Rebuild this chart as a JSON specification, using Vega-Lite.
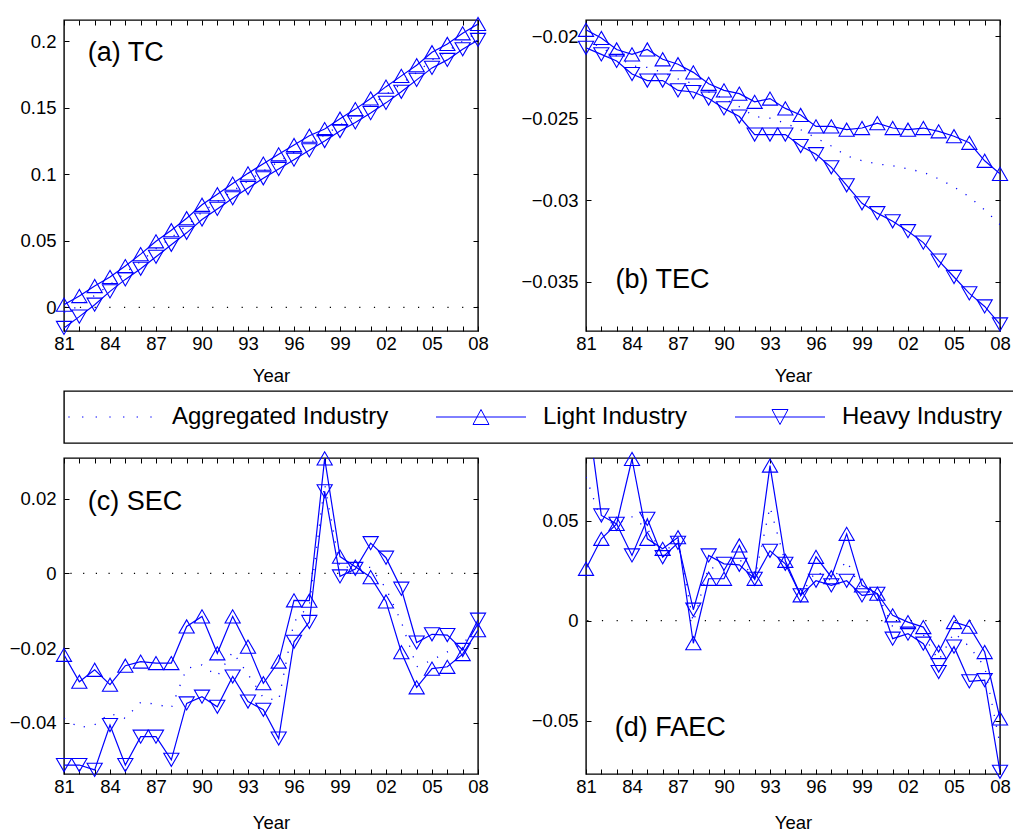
{
  "$schema": "https://vega.github.io/schema/vega-lite/v6.json",
  "padding": {"left": 5, "top": 14, "right": 0, "bottom": 0},
  "background": "white",
  "config": {
    "font": "Liberation Sans",
    "view": {"stroke": "black", "strokeWidth": 1.4},
    "axis": {"labelFont": "Liberation Sans", "labelFontSize": 18.5, "labelColor": "black", "titleFont": "Liberation Sans", "titleFontSize": 18.5, "titleFontWeight": "normal", "titleColor": "black", "tickColor": "black", "tickWidth": 1, "grid": false, "domain": false}
  },
  "datasets": {
    "a": [
      {"year":1981,"L":0.002,"H":-0.0155,"A":-0.004},{"year":1982,"L":0.0085,"H":-0.007,"A":0.001},{"year":1983,"L":0.016,"H":0.002,"A":0.009},{"year":1984,"L":0.0228,"H":0.012,"A":0.017},{"year":1985,"L":0.031,"H":0.021,"A":0.026},{"year":1986,"L":0.040,"H":0.029,"A":0.0345},{"year":1987,"L":0.0496,"H":0.038,"A":0.044},{"year":1988,"L":0.058,"H":0.047,"A":0.0525},{"year":1989,"L":0.067,"H":0.056,"A":0.0615},{"year":1990,"L":0.0771,"H":0.066,"A":0.0715},{"year":1991,"L":0.085,"H":0.074,"A":0.0795},{"year":1992,"L":0.093,"H":0.082,"A":0.0875},{"year":1993,"L":0.1007,"H":0.0897,"A":0.095},{"year":1994,"L":0.108,"H":0.097,"A":0.1025},{"year":1995,"L":0.115,"H":0.104,"A":0.1095},{"year":1996,"L":0.122,"H":0.111,"A":0.1165},{"year":1997,"L":0.129,"H":0.118,"A":0.1235},{"year":1998,"L":0.134,"H":0.125,"A":0.1295},{"year":1999,"L":0.1418,"H":0.1325,"A":0.137},{"year":2000,"L":0.149,"H":0.139,"A":0.144},{"year":2001,"L":0.157,"H":0.146,"A":0.1515},{"year":2002,"L":0.1659,"H":0.1537,"A":0.160},{"year":2003,"L":0.174,"H":0.162,"A":0.168},{"year":2004,"L":0.182,"H":0.171,"A":0.1765},{"year":2005,"L":0.1918,"H":0.180,"A":0.186},{"year":2006,"L":0.198,"H":0.186,"A":0.1925},{"year":2007,"L":0.206,"H":0.194,"A":0.200},{"year":2008,"L":0.213,"H":0.201,"A":0.207}
    ],
    "b": [
      {"year":1981,"L":-0.0196,"H":-0.0207,"A":-0.0202},{"year":1982,"L":-0.0201,"H":-0.0211,"A":-0.0207},{"year":1983,"L":-0.0208,"H":-0.0215,"A":-0.0212},{"year":1984,"L":-0.0211,"H":-0.0223,"A":-0.0218},{"year":1985,"L":-0.0208,"H":-0.0227,"A":-0.0219},{"year":1986,"L":-0.0214,"H":-0.0227,"A":-0.0222},{"year":1987,"L":-0.0217,"H":-0.0233,"A":-0.0226},{"year":1988,"L":-0.0222,"H":-0.0234,"A":-0.0229},{"year":1989,"L":-0.0229,"H":-0.0238,"A":-0.0234},{"year":1990,"L":-0.0233,"H":-0.0244,"A":-0.0238},{"year":1991,"L":-0.0235,"H":-0.0249,"A":-0.0243},{"year":1992,"L":-0.024,"H":-0.026,"A":-0.0249},{"year":1993,"L":-0.0238,"H":-0.026,"A":-0.025},{"year":1994,"L":-0.0244,"H":-0.026,"A":-0.0253},{"year":1995,"L":-0.0248,"H":-0.0267,"A":-0.0257},{"year":1996,"L":-0.0255,"H":-0.0272,"A":-0.0262},{"year":1997,"L":-0.0255,"H":-0.028,"A":-0.0267},{"year":1998,"L":-0.0257,"H":-0.0291,"A":-0.0273},{"year":1999,"L":-0.0256,"H":-0.0302,"A":-0.0276},{"year":2000,"L":-0.0253,"H":-0.0308,"A":-0.0278},{"year":2001,"L":-0.0256,"H":-0.0313,"A":-0.0279},{"year":2002,"L":-0.0257,"H":-0.0319,"A":-0.0281},{"year":2003,"L":-0.0256,"H":-0.0326,"A":-0.0283},{"year":2004,"L":-0.0258,"H":-0.0337,"A":-0.0287},{"year":2005,"L":-0.0261,"H":-0.0347,"A":-0.0292},{"year":2006,"L":-0.0265,"H":-0.0357,"A":-0.0298},{"year":2007,"L":-0.0276,"H":-0.0365,"A":-0.0306},{"year":2008,"L":-0.0284,"H":-0.0376,"A":-0.0315}
    ],
    "c": [
      {"year":1981,"L":-0.0218,"H":-0.0513,"A":-0.0388},{"year":1982,"L":-0.029,"H":-0.0513,"A":-0.0413},{"year":1983,"L":-0.0258,"H":-0.0526,"A":-0.0405},{"year":1984,"L":-0.0298,"H":-0.0406,"A":-0.0375},{"year":1985,"L":-0.0247,"H":-0.0513,"A":-0.0388},{"year":1986,"L":-0.0236,"H":-0.0437,"A":-0.0345},{"year":1987,"L":-0.024,"H":-0.0437,"A":-0.035},{"year":1988,"L":-0.024,"H":-0.0499,"A":-0.036},{"year":1989,"L":-0.0142,"H":-0.0348,"A":-0.0254},{"year":1990,"L":-0.0115,"H":-0.033,"A":-0.0245},{"year":1991,"L":-0.0214,"H":-0.0357,"A":-0.0275},{"year":1992,"L":-0.0115,"H":-0.0276,"A":-0.021},{"year":1993,"L":-0.0196,"H":-0.0343,"A":-0.027},{"year":1994,"L":-0.0294,"H":-0.0365,"A":-0.0333},{"year":1995,"L":-0.0236,"H":-0.0442,"A":-0.034},{"year":1996,"L":-0.0072,"H":-0.0183,"A":-0.013},{"year":1997,"L":-0.0073,"H":-0.013,"A":-0.0086},{"year":1998,"L":0.0308,"H":0.022,"A":0.024},{"year":1999,"L":0.0045,"H":-0.0008,"A":0.0015},{"year":2000,"L":0.0018,"H":0.0012,"A":0.0019},{"year":2001,"L":-0.001,"H":0.0081,"A":0.0016},{"year":2002,"L":-0.0075,"H":0.0042,"A":-0.004},{"year":2003,"L":-0.0211,"H":-0.0041,"A":-0.013},{"year":2004,"L":-0.0305,"H":-0.0185,"A":-0.025},{"year":2005,"L":-0.0255,"H":-0.0163,"A":-0.0232},{"year":2006,"L":-0.025,"H":-0.0165,"A":-0.021},{"year":2007,"L":-0.0216,"H":-0.0205,"A":-0.019},{"year":2008,"L":-0.0152,"H":-0.0124,"A":-0.0137}
    ],
    "d": [
      {"year":1981,"L":0.026,"H":0.11,"A":0.072},{"year":1982,"L":0.041,"H":0.0527,"A":0.05},{"year":1983,"L":0.0485,"H":0.0485,"A":0.0485},{"year":1984,"L":0.081,"H":0.0327,"A":0.052},{"year":1985,"L":0.041,"H":0.051,"A":0.046},{"year":1986,"L":0.036,"H":0.0318,"A":0.034},{"year":1987,"L":0.0418,"H":0.039,"A":0.04},{"year":1988,"L":-0.0113,"H":0.0055,"A":-0.001},{"year":1989,"L":0.021,"H":0.0327,"A":0.027},{"year":1990,"L":0.021,"H":0.0285,"A":0.025},{"year":1991,"L":0.0377,"H":0.028,"A":0.031},{"year":1992,"L":0.021,"H":0.021,"A":0.021},{"year":1993,"L":0.0777,"H":0.035,"A":0.057},{"year":1994,"L":0.03,"H":0.0285,"A":0.029},{"year":1995,"L":0.0127,"H":0.0127,"A":0.0127},{"year":1996,"L":0.032,"H":0.02,"A":0.025},{"year":1997,"L":0.0218,"H":0.0177,"A":0.02},{"year":1998,"L":0.0435,"H":0.02,"A":0.03},{"year":1999,"L":0.0177,"H":0.0127,"A":0.015},{"year":2000,"L":0.0135,"H":0.0135,"A":0.0135},{"year":2001,"L":0.0027,"H":-0.009,"A":-0.003},{"year":2002,"L":-0.0007,"H":-0.0065,"A":-0.004},{"year":2003,"L":-0.0032,"H":-0.0115,"A":-0.007},{"year":2004,"L":-0.0157,"H":-0.0257,"A":-0.02},{"year":2005,"L":-0.0007,"H":-0.013,"A":-0.006},{"year":2006,"L":-0.003,"H":-0.0304,"A":-0.013},{"year":2007,"L":-0.0157,"H":-0.0298,"A":-0.023},{"year":2008,"L":-0.049,"H":-0.0757,"A":-0.062}
    ]
  },
  "vconcat": [
    {
      "hconcat": [
        {
          "width": 414, "height": 311,
          "data": {"name": "a"},
          "title": {"text": "(a) TC", "orient": "top", "anchor": "start", "frame": "group", "offset": 0, "dx": 23.7, "dy": 64.5, "baseline": "middle", "fontSize": 27, "fontWeight": "normal", "font": "Liberation Sans", "color": "black"},
          "encoding": {"x": {"field": "year", "type": "quantitative", "scale": {"domain": [1981, 2008], "nice": false, "zero": false}, "axis": null}},
          "layer": [
            {"data": {"values": [{"z": 0}]}, "mark": {"type": "rule", "color": "black", "strokeDash": [1.2, 13.5], "strokeWidth": 1.3}, "encoding": {"x": null, "y": {"field": "z", "type": "quantitative", "scale": {"domain": [-0.0178, 0.216], "nice": false, "zero": false}, "axis": null}}},
            {"mark": {"type": "line", "color": "#0000ff", "strokeDash": [1.2, 10], "strokeWidth": 1.3, "clip": true},
             "encoding": {
               "x": {"field": "year", "type": "quantitative", "scale": {"domain": [1981, 2008], "nice": false, "zero": false}, "axis": {"orient": "bottom", "values": [1981,1982,1983,1984,1985,1986,1987,1988,1989,1990,1991,1992,1993,1994,1995,1996,1997,1998,1999,2000,2001,2002,2003,2004,2005,2006,2007,2008], "labelExpr": "(datum.value - 1981) % 3 == 0 ? slice(toString(100 + datum.value % 100), 1) : ''", "labelOverlap": false, "labelFlush": false, "tickSize": -5, "labelPadding": 8.5, "title": "Year", "titlePadding": 13.5}},
               "y": {"field": "A", "type": "quantitative", "scale": {"domain": [-0.0178, 0.216], "nice": false, "zero": false}, "axis": {"orient": "left", "values": [0, 0.05, 0.1, 0.15, 0.2], "format": "~g", "tickSize": -5, "labelPadding": 13, "title": null, "minExtent": 58, "labelOverlap": false}}}},
            {"mark": {"type": "line", "color": "#0000ff", "strokeWidth": 1.2, "clip": true},
             "encoding": {
               "x": {"field": "year", "type": "quantitative", "axis": {"orient": "top", "values": [1981,1982,1983,1984,1985,1986,1987,1988,1989,1990,1991,1992,1993,1994,1995,1996,1997,1998,1999,2000,2001,2002,2003,2004,2005,2006,2007,2008], "labels": false, "tickSize": -5, "title": null, "minExtent": 0}},
               "y": {"field": "L", "type": "quantitative", "axis": {"orient": "right", "values": [0, 0.05, 0.1, 0.15, 0.2], "labels": false, "tickSize": -5, "title": null, "minExtent": 0}}}},
            {"mark": {"type": "line", "color": "#0000ff", "strokeWidth": 1.2, "clip": true}, "encoding": {"y": {"field": "H", "type": "quantitative", "axis": null}}},
            {"mark": {"type": "point", "shape": "triangle-up", "size": 230, "filled": false, "color": "#0000ff", "strokeWidth": 1.1, "opacity": 1}, "encoding": {"y": {"field": "L", "type": "quantitative", "axis": null}}},
            {"mark": {"type": "point", "shape": "triangle-down", "size": 230, "filled": false, "color": "#0000ff", "strokeWidth": 1.1, "opacity": 1}, "encoding": {"y": {"field": "H", "type": "quantitative", "axis": null}}}
          ],
          "resolve": {"axis": {"x": "independent", "y": "independent"}}
        },
        {
          "width": 414, "height": 311,
          "data": {"name": "b"},
          "title": {"text": "(b) TEC", "orient": "bottom", "anchor": "start", "frame": "group", "offset": 0, "dx": 29.4, "dy": -105, "baseline": "middle", "fontSize": 27, "fontWeight": "normal", "font": "Liberation Sans", "color": "black"},
          "encoding": {"x": {"field": "year", "type": "quantitative", "scale": {"domain": [1981, 2008], "nice": false, "zero": false}, "axis": null}},
          "layer": [
            {"mark": {"type": "line", "color": "#0000ff", "strokeDash": [1.2, 10], "strokeWidth": 1.3, "clip": true},
             "encoding": {
               "x": {"field": "year", "type": "quantitative", "scale": {"domain": [1981, 2008], "nice": false, "zero": false}, "axis": {"orient": "bottom", "values": [1981,1982,1983,1984,1985,1986,1987,1988,1989,1990,1991,1992,1993,1994,1995,1996,1997,1998,1999,2000,2001,2002,2003,2004,2005,2006,2007,2008], "labelExpr": "(datum.value - 1981) % 3 == 0 ? slice(toString(100 + datum.value % 100), 1) : ''", "labelOverlap": false, "labelFlush": false, "tickSize": -5, "labelPadding": 8.5, "title": "Year", "titlePadding": 13.5}},
               "y": {"field": "A", "type": "quantitative", "scale": {"domain": [-0.038, -0.019], "nice": false, "zero": false}, "axis": {"orient": "left", "values": [-0.035, -0.03, -0.025, -0.02], "format": "~g", "tickSize": -5, "labelPadding": 13, "title": null, "minExtent": 68, "labelOverlap": false}}}},
            {"mark": {"type": "line", "color": "#0000ff", "strokeWidth": 1.2, "clip": true},
             "encoding": {
               "x": {"field": "year", "type": "quantitative", "axis": {"orient": "top", "values": [1981,1982,1983,1984,1985,1986,1987,1988,1989,1990,1991,1992,1993,1994,1995,1996,1997,1998,1999,2000,2001,2002,2003,2004,2005,2006,2007,2008], "labels": false, "tickSize": -5, "title": null, "minExtent": 0}},
               "y": {"field": "L", "type": "quantitative", "axis": {"orient": "right", "values": [-0.035, -0.03, -0.025, -0.02], "labels": false, "tickSize": -5, "title": null, "minExtent": 0}}}},
            {"mark": {"type": "line", "color": "#0000ff", "strokeWidth": 1.2, "clip": true}, "encoding": {"y": {"field": "H", "type": "quantitative", "axis": null}}},
            {"mark": {"type": "point", "shape": "triangle-up", "size": 230, "filled": false, "color": "#0000ff", "strokeWidth": 1.1, "opacity": 1}, "encoding": {"y": {"field": "L", "type": "quantitative", "axis": null}}},
            {"mark": {"type": "point", "shape": "triangle-down", "size": 230, "filled": false, "color": "#0000ff", "strokeWidth": 1.1, "opacity": 1}, "encoding": {"y": {"field": "H", "type": "quantitative", "axis": null}}}
          ],
          "resolve": {"axis": {"x": "independent", "y": "independent"}}
        }
      ],
      "spacing": 28
    },
    {
      "hconcat": [
        {
          "width": 950, "height": 52,
          "data": {"values": [{"s": "Aggregated Industry"}, {"s": "Light Industry"}, {"s": "Heavy Industry"}]},
          "mark": {"type": "point", "opacity": 0, "filled": false, "color": "#0000ff"},
          "encoding": {
            "y": {"field": "s", "type": "nominal", "axis": {"labels": false, "ticks": false, "domain": false, "title": null, "minExtent": 55, "maxExtent": 55}},
            "shape": {"field": "s", "type": "nominal", "sort": null,
              "scale": {"domain": ["Aggregated Industry", "Light Industry", "Heavy Industry"], "range": ["M-4.17,0L-4.03,0M-2.8,0L-2.66,0M-1.44,0L-1.3,0M-0.07,0L0.07,0M1.3,0L1.44,0M2.66,0L2.8,0M4.03,0L4.17,0", "M-4.5,0L4.5,0M0,-0.75L0.8,0.75L-0.8,0.75Z", "M-4.5,0L4.5,0M0,0.75L0.8,-0.75L-0.8,-0.75Z"]},
              "legend": {"orient": "none", "legendX": 0, "legendY": 14, "direction": "horizontal", "columns": 3, "title": null, "padding": 0, "symbolSize": 400, "symbolStrokeWidth": 1, "symbolStrokeColor": "#0000ff", "symbolFillColor": "transparent", "symbolOpacity": 1, "symbolOffset": 34, "labelOffset": 50, "labelFont": "Liberation Sans", "labelFontSize": 24, "labelColor": "black", "labelLimit": 400, "columnPadding": 45}}
          }
        }
      ],
      "resolve": {"legend": {"shape": "independent"}}
    },
    {
      "hconcat": [
        {
          "width": 414, "height": 316,
          "data": {"name": "c"},
          "title": {"text": "(c) SEC", "orient": "top", "anchor": "start", "frame": "group", "offset": 0, "dx": 23.7, "dy": 79.2, "baseline": "middle", "fontSize": 27, "fontWeight": "normal", "font": "Liberation Sans", "color": "black"},
          "encoding": {"x": {"field": "year", "type": "quantitative", "scale": {"domain": [1981, 2008], "nice": false, "zero": false}, "axis": null}},
          "layer": [
            {"data": {"values": [{"z": 0}]}, "mark": {"type": "rule", "color": "black", "strokeDash": [1.2, 11.5], "strokeWidth": 1.3}, "encoding": {"x": null, "y": {"field": "z", "type": "quantitative", "scale": {"domain": [-0.0537, 0.0309], "nice": false, "zero": false}, "axis": null}}},
            {"mark": {"type": "line", "color": "#0000ff", "strokeDash": [1.2, 10], "strokeWidth": 1.3, "clip": true},
             "encoding": {
               "x": {"field": "year", "type": "quantitative", "scale": {"domain": [1981, 2008], "nice": false, "zero": false}, "axis": {"orient": "bottom", "values": [1981,1982,1983,1984,1985,1986,1987,1988,1989,1990,1991,1992,1993,1994,1995,1996,1997,1998,1999,2000,2001,2002,2003,2004,2005,2006,2007,2008], "labelExpr": "(datum.value - 1981) % 3 == 0 ? slice(toString(100 + datum.value % 100), 1) : ''", "labelOverlap": false, "labelFlush": false, "tickSize": -5, "labelPadding": 8.5, "title": "Year", "titlePadding": 17.5}},
               "y": {"field": "A", "type": "quantitative", "scale": {"domain": [-0.0537, 0.0309], "nice": false, "zero": false}, "axis": {"orient": "left", "values": [-0.04, -0.02, 0, 0.02], "format": "~g", "tickSize": -5, "labelPadding": 13, "title": null, "minExtent": 58, "labelOverlap": false}}}},
            {"mark": {"type": "line", "color": "#0000ff", "strokeWidth": 1.2, "clip": true},
             "encoding": {
               "x": {"field": "year", "type": "quantitative", "axis": {"orient": "top", "values": [1981,1982,1983,1984,1985,1986,1987,1988,1989,1990,1991,1992,1993,1994,1995,1996,1997,1998,1999,2000,2001,2002,2003,2004,2005,2006,2007,2008], "labels": false, "tickSize": -5, "title": null, "minExtent": 0}},
               "y": {"field": "L", "type": "quantitative", "axis": {"orient": "right", "values": [-0.04, -0.02, 0, 0.02], "labels": false, "tickSize": -5, "title": null, "minExtent": 0}}}},
            {"mark": {"type": "line", "color": "#0000ff", "strokeWidth": 1.2, "clip": true}, "encoding": {"y": {"field": "H", "type": "quantitative", "axis": null}}},
            {"mark": {"type": "point", "shape": "triangle-up", "size": 230, "filled": false, "color": "#0000ff", "strokeWidth": 1.1, "opacity": 1}, "encoding": {"y": {"field": "L", "type": "quantitative", "axis": null}}},
            {"mark": {"type": "point", "shape": "triangle-down", "size": 230, "filled": false, "color": "#0000ff", "strokeWidth": 1.1, "opacity": 1}, "encoding": {"y": {"field": "H", "type": "quantitative", "axis": null}}}
          ],
          "resolve": {"axis": {"x": "independent", "y": "independent"}}
        },
        {
          "width": 414, "height": 316,
          "data": {"name": "d"},
          "title": {"text": "(d) FAEC", "orient": "bottom", "anchor": "start", "frame": "group", "offset": 0, "dx": 28.7, "dy": -104, "baseline": "middle", "fontSize": 27, "fontWeight": "normal", "font": "Liberation Sans", "color": "black"},
          "encoding": {"x": {"field": "year", "type": "quantitative", "scale": {"domain": [1981, 2008], "nice": false, "zero": false}, "axis": null}},
          "layer": [
            {"data": {"values": [{"z": 0}]}, "mark": {"type": "rule", "color": "black", "strokeDash": [1.2, 13.5], "strokeWidth": 1.3}, "encoding": {"x": null, "y": {"field": "z", "type": "quantitative", "scale": {"domain": [-0.0768, 0.0815], "nice": false, "zero": false}, "axis": null}}},
            {"mark": {"type": "line", "color": "#0000ff", "strokeDash": [1.2, 10], "strokeWidth": 1.3, "clip": true},
             "encoding": {
               "x": {"field": "year", "type": "quantitative", "scale": {"domain": [1981, 2008], "nice": false, "zero": false}, "axis": {"orient": "bottom", "values": [1981,1982,1983,1984,1985,1986,1987,1988,1989,1990,1991,1992,1993,1994,1995,1996,1997,1998,1999,2000,2001,2002,2003,2004,2005,2006,2007,2008], "labelExpr": "(datum.value - 1981) % 3 == 0 ? slice(toString(100 + datum.value % 100), 1) : ''", "labelOverlap": false, "labelFlush": false, "tickSize": -5, "labelPadding": 8.5, "title": "Year", "titlePadding": 17.5}},
               "y": {"field": "A", "type": "quantitative", "scale": {"domain": [-0.0768, 0.0815], "nice": false, "zero": false}, "axis": {"orient": "left", "values": [-0.05, 0, 0.05], "format": "~g", "tickSize": -5, "labelPadding": 13, "title": null, "minExtent": 68, "labelOverlap": false}}}},
            {"mark": {"type": "line", "color": "#0000ff", "strokeWidth": 1.2, "clip": true},
             "encoding": {
               "x": {"field": "year", "type": "quantitative", "axis": {"orient": "top", "values": [1981,1982,1983,1984,1985,1986,1987,1988,1989,1990,1991,1992,1993,1994,1995,1996,1997,1998,1999,2000,2001,2002,2003,2004,2005,2006,2007,2008], "labels": false, "tickSize": -5, "title": null, "minExtent": 0}},
               "y": {"field": "L", "type": "quantitative", "axis": {"orient": "right", "values": [-0.05, 0, 0.05], "labels": false, "tickSize": -5, "title": null, "minExtent": 0}}}},
            {"mark": {"type": "line", "color": "#0000ff", "strokeWidth": 1.2, "clip": true}, "encoding": {"y": {"field": "H", "type": "quantitative", "axis": null}}},
            {"mark": {"type": "point", "shape": "triangle-up", "size": 230, "filled": false, "color": "#0000ff", "strokeWidth": 1.1, "opacity": 1}, "encoding": {"y": {"field": "L", "type": "quantitative", "axis": null}}},
            {"transform": [{"filter": "datum.H < 0.0815"}], "mark": {"type": "point", "shape": "triangle-down", "size": 230, "filled": false, "color": "#0000ff", "strokeWidth": 1.1, "opacity": 1}, "encoding": {"y": {"field": "H", "type": "quantitative", "axis": null}}}
          ],
          "resolve": {"axis": {"x": "independent", "y": "independent"}}
        }
      ],
      "spacing": 28
    }
  ],
  "spacing": 4,
  "resolve": {"legend": {"shape": "independent"}}
}
